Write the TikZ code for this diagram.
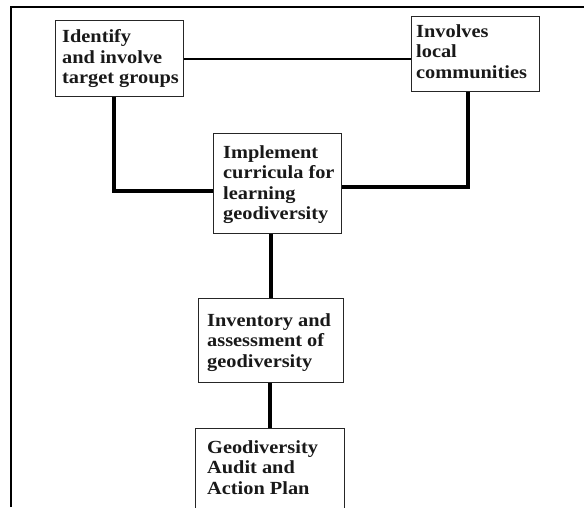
\documentclass[tikz,border=0pt]{standalone}
\usepackage{fontspec}
\setmainfont{Liberation Serif}[FakeStretch=1.1]
\begin{document}
\begin{tikzpicture}[x=1pt,y=-1pt,
  box/.style={draw=black!85, line width=1.2pt, inner sep=0pt, anchor=north west},
  lbl/.style={font=\bfseries\fontsize{18.5}{20.3}\selectfont, align=left, inner sep=0pt, anchor=base west, text=black!90},
  linkthin/.style={line width=2pt},
  linkthick/.style={line width=4pt}]
\useasboundingbox (0,0) rectangle (584,507);
\clip (0,0) rectangle (584,507);
\draw[line width=2.5pt] (11,507) -- (11,7) -- (584,7);

\node[box, minimum width=128, minimum height=76] (A) at (55,20) {};
\node[box, minimum width=128, minimum height=75] (B) at (411,16) {};
\node[box, minimum width=128, minimum height=100] (C) at (213,133) {};
\node[box, minimum width=145, minimum height=84] (D) at (198,298) {};
\node[box, minimum width=149, minimum height=100] (E) at (195,428) {};

\node[lbl] (At) at (62,83.3) {Identify\\and involve\\target groups};
\node[lbl] (Bt) at (416,78) {Involves\\local\\communities};
\node[lbl] (Ct) at (223,219.5) {Implement\\curricula for\\learning\\geodiversity};
\node[lbl] (Dt) at (207,367) {Inventory and\\assessment of\\geodiversity};
\node[lbl] (Et) at (207,494) {Geodiversity\\Audit and\\Action Plan};

\draw[linkthin] (A.east) -- (A.east -| B.west);
\draw[linkthick] ([xshift=-6pt]A.south) |- ([yshift=-7pt]C.west);
\draw[linkthick] ([xshift=-8pt]B.south) |- ([yshift=-3pt]C.east);
\draw[linkthick] (C.south -| D.north) -- (D.north);
\draw[linkthick] (D.south -| E.north) -- (E.north);
\end{tikzpicture}
\end{document}
